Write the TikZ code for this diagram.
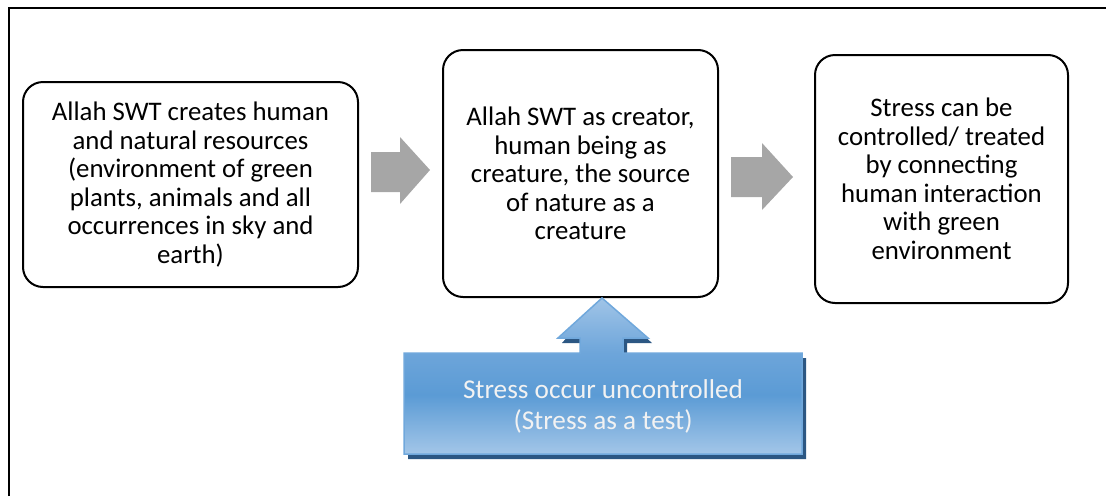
\documentclass[tikz,border=0pt]{standalone}
\usepackage{fontspec}
\setmainfont{Carlito}
\usetikzlibrary{positioning}

\definecolor{arrowgray}{HTML}{A6A6A6}
\definecolor{calloutedge}{HTML}{70A8DC}
\definecolor{calloutshadow}{HTML}{2C5783}
\definecolor{blueA}{HTML}{A3C6E8}
\definecolor{blueB}{HTML}{5B9BD5}
\definecolor{blueC}{HTML}{6DA5DA}
\definecolor{blueD}{HTML}{A0C4E7}
\pgfdeclareverticalshading{calloutblue}{100bp}{color(0bp)=(blueA); color(25bp)=(blueA); color(43.9bp)=(blueB); color(57.4bp)=(blueC); color(75bp)=(blueD); color(100bp)=(blueD)}

\tikzset{
	stepbox/.style={draw,line width=2pt,rounded corners=20pt,align=center,inner sep=0pt,
		font=\fontsize{26.8}{28.5}\selectfont},
	grayarrow/.style={fill=arrowgray},
}

\begin{document}
\begin{tikzpicture}[x=1pt,y=-1pt]
		\useasboundingbox (0,0) rectangle (1106,496);
		% frame
		\draw [line width=2pt] (9,496) -- (9,8) -- (1106,8);
		% the three steps
		\node [stepbox,minimum width=335pt,minimum height=205pt] (create) at (190.5,184.5)
			{Allah SWT creates human\\and natural resources\\(environment of green\\plants, animals and all\\occurrences in sky and\\earth)};
		\node [stepbox,minimum width=275pt,minimum height=247pt] (creator) at (580.5,173.5)
			{Allah SWT as creator,\\human being as\\creature, the source\\of nature as a\\creature};
		\node [stepbox,minimum width=253pt,minimum height=248pt] (treat) at (941.5,179)
			{Stress can be\\controlled/ treated\\by connecting\\human interaction\\with green\\environment};
		% gray block arrows
		\fill [grayarrow] (371,152) -- (400,152) -- (400,137) -- (430,170) -- (400,204) -- (400,192) -- (371,192) -- cycle;
		\fill [grayarrow] (731,157) -- (762,157) -- (762,143) -- (793,177) -- (762,210) -- (762,197) -- (731,197) -- cycle;
		% blue callout
		\coordinate (tip) at (creator.south -| 602,0);
		\fill [calloutshadow,xshift=4pt,yshift=-5pt] (404,353) -- (580,353) -- (580,338) -- (558,338) -- (tip) -- (648,338) -- (623,338) -- (623,353) -- (802,353) -- (802,454) -- (404,454) -- cycle;
		\draw [calloutedge,line width=1.5pt,shading=calloutblue] (404,353) -- (580,353) -- (580,338) -- (558,338) -- (tip) -- (648,338) -- (623,338) -- (623,353) -- (802,353) -- (802,454) -- (404,454) -- cycle;
		\node [align=center,text=white!95!black,font=\fontsize{27.2}{31}\selectfont] (test) at (603,406)
			{Stress occur uncontrolled\\(Stress as a test)};
	\end{tikzpicture}
\end{document}
